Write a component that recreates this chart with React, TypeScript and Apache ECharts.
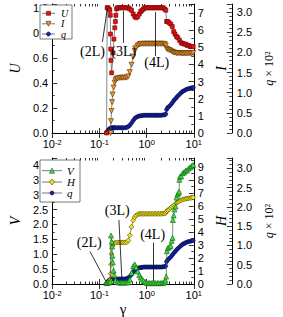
import React, { useEffect, useRef } from "react";
import * as echarts from "echarts";

// ---------- data ----------
const xMinorTicks = [
  0.02, 0.03, 0.04, 0.05, 0.06, 0.07, 0.08, 0.09,
  0.2, 0.3, 0.4, 0.5, 0.6, 0.7, 0.8, 0.9,
  2, 3, 4, 5, 6, 7, 8, 9,
];

// top panel: U (left axis)
const uData: [number, number][] = [
  [0.142, 0.0], [0.146, 1.0], [0.152, 1.0], [0.16, 0.99], [0.166, 0.98],
  [0.17, 0.94], [0.172, 0.79], [0.174, 0.67], [0.176, 0.58], [0.182, 0.48],
  [0.195, 0.64], [0.203, 0.75], [0.212, 0.84], [0.218, 0.89], [0.223, 0.94],
  [0.232, 0.99], [0.24, 1.0], [0.26, 1.0], [0.28, 1.0], [0.3, 1.0], [0.32, 1.0],
  [0.35, 1.0], [0.38, 1.0], [0.41, 1.0], [0.44, 0.99], [0.48, 0.98], [0.52, 0.95],
  [0.56, 0.93], [0.6, 0.92], [0.65, 0.93], [0.7, 0.95], [0.75, 0.97], [0.8, 0.98],
  [0.86, 0.99], [0.93, 1.0], [1.0, 1.0], [1.08, 1.0], [1.16, 1.0], [1.25, 1.0],
  [1.35, 1.0], [1.45, 1.0], [1.56, 1.0], [1.68, 1.0], [1.8, 1.0], [1.95, 1.0],
  [2.1, 1.0], [2.25, 1.0], [2.42, 0.99], [2.55, 0.98], [2.65, 0.89], [2.8, 0.89],
  [3.0, 0.88], [3.25, 0.87], [3.5, 0.85], [3.75, 0.81], [4.0, 0.79], [4.3, 0.77],
  [4.6, 0.76], [5.0, 0.74], [5.4, 0.72], [5.8, 0.715], [6.2, 0.71], [6.7, 0.71],
  [7.2, 0.7], [7.8, 0.7], [8.4, 0.69], [9.0, 0.69], [9.7, 0.69],
];

// top panel: I (right axis)
const iData: [number, number][] = [
  [0.172, 0.0], [0.176, 0.69], [0.18, 1.28], [0.186, 1.8], [0.19, 2.25],
  [0.2, 2.65], [0.21, 2.94], [0.22, 3.08], [0.232, 3.15], [0.24, 3.18],
  [0.26, 3.2], [0.28, 3.22], [0.3, 3.22], [0.32, 3.22], [0.35, 3.22],
  [0.38, 3.23], [0.41, 3.3], [0.44, 3.55], [0.48, 3.98], [0.52, 4.45],
  [0.56, 4.78], [0.6, 4.98], [0.65, 5.1], [0.7, 5.16], [0.75, 5.19], [0.8, 5.2],
  [0.86, 5.2], [0.93, 5.2], [1.0, 5.2], [1.08, 5.2], [1.16, 5.2], [1.25, 5.2],
  [1.35, 5.2], [1.45, 5.2], [1.56, 5.2], [1.68, 5.2], [1.8, 5.2], [1.95, 5.2],
  [2.1, 5.2], [2.25, 5.2], [2.42, 5.18], [2.55, 5.1], [2.65, 4.92], [2.8, 4.88],
  [3.0, 4.84], [3.25, 4.8], [3.5, 4.74], [3.75, 4.7], [4.0, 4.68], [4.3, 4.66],
  [4.6, 4.65], [5.0, 4.65], [5.4, 4.64], [5.8, 4.64], [6.2, 4.64], [6.7, 4.64],
  [7.2, 4.64], [7.8, 4.65], [8.4, 4.65], [9.0, 4.65], [9.7, 4.66],
];

// both panels: q x 10^2 (third axis)
const qData: [number, number][] = [
  [0.142, 0.02], [0.148, 0.05], [0.155, 0.08], [0.162, 0.1], [0.17, 0.12],
  [0.18, 0.13], [0.19, 0.13], [0.2, 0.13], [0.21, 0.13], [0.22, 0.13],
  [0.24, 0.13], [0.26, 0.13], [0.28, 0.13], [0.3, 0.13], [0.32, 0.13],
  [0.35, 0.13], [0.38, 0.14], [0.41, 0.16], [0.44, 0.19], [0.48, 0.25],
  [0.52, 0.31], [0.56, 0.36], [0.6, 0.39], [0.65, 0.41], [0.7, 0.42],
  [0.75, 0.43], [0.8, 0.43], [0.86, 0.44], [0.93, 0.44], [1.0, 0.44],
  [1.08, 0.44], [1.16, 0.44], [1.25, 0.44], [1.35, 0.44], [1.45, 0.44],
  [1.56, 0.44], [1.68, 0.44], [1.8, 0.44], [1.95, 0.44], [2.1, 0.44],
  [2.25, 0.45], [2.42, 0.45], [2.55, 0.47], [2.65, 0.58], [2.8, 0.63],
  [3.0, 0.66], [3.25, 0.7], [3.5, 0.75], [3.75, 0.8], [4.0, 0.84], [4.3, 0.88],
  [4.6, 0.92], [5.0, 0.96], [5.4, 1.0], [5.8, 1.03], [6.2, 1.05], [6.7, 1.07],
  [7.2, 1.09], [7.8, 1.1], [8.4, 1.11], [9.0, 1.12], [9.7, 1.13],
];

// bottom panel: V (left axis)
const vData: [number, number][] = [
  [0.142, 0.03], [0.15, 0.04], [0.16, 0.05], [0.17, 0.08], [0.176, 1.63],
  [0.183, 1.42], [0.186, 1.26], [0.188, 0.95], [0.192, 0.73], [0.2, 0.45],
  [0.208, 0.29], [0.22, 0.13], [0.24, 0.06], [0.26, 0.05], [0.28, 0.05],
  [0.3, 0.05], [0.32, 0.05], [0.35, 0.05], [0.38, 0.05], [0.41, 0.06],
  [0.44, 0.15], [0.48, 0.38], [0.52, 0.6], [0.56, 0.66], [0.6, 0.56],
  [0.65, 0.42], [0.7, 0.3], [0.75, 0.22], [0.8, 0.17], [0.86, 0.11],
  [0.93, 0.07], [1.0, 0.04], [1.08, 0.03], [1.16, 0.03], [1.25, 0.03],
  [1.35, 0.03], [1.45, 0.03], [1.56, 0.03], [1.68, 0.03], [1.8, 0.03],
  [1.95, 0.03], [2.1, 0.03], [2.25, 0.04], [2.42, 0.06], [2.52, 0.12],
  [2.6, 0.25], [2.69, 1.1], [2.8, 1.2], [3.0, 1.24], [3.25, 1.28], [3.4, 1.45],
  [3.55, 1.55], [3.6, 2.15], [3.75, 2.3], [3.9, 2.5], [4.1, 2.6], [4.3, 2.9],
  [4.5, 3.0], [4.7, 3.05], [4.88, 3.1], [4.95, 3.5], [5.1, 3.6], [5.4, 3.62],
  [5.8, 3.72], [6.2, 3.75], [6.7, 3.8], [7.2, 3.82], [7.8, 3.88], [8.4, 3.92],
  [9.0, 3.96], [9.7, 4.0],
];

// bottom panel: H (right axis)
const hData: [number, number][] = [
  [0.142, 0.05], [0.15, 0.1], [0.16, 0.15], [0.168, 0.3], [0.173, 0.8],
  [0.176, 1.5], [0.18, 2.3], [0.186, 2.9], [0.195, 3.08], [0.2, 3.12],
  [0.21, 3.15], [0.22, 3.18], [0.24, 3.2], [0.26, 3.2], [0.28, 3.2], [0.3, 3.2],
  [0.32, 3.2], [0.35, 3.2], [0.38, 3.22], [0.41, 3.35], [0.44, 3.75], [0.48, 4.4],
  [0.52, 4.9], [0.56, 5.15], [0.6, 5.28], [0.65, 5.36], [0.7, 5.4], [0.75, 5.4],
  [0.8, 5.4], [0.86, 5.4], [0.93, 5.4], [1.0, 5.4], [1.08, 5.4], [1.16, 5.4],
  [1.25, 5.4], [1.35, 5.4], [1.45, 5.4], [1.56, 5.4], [1.68, 5.4], [1.8, 5.4],
  [1.95, 5.4], [2.1, 5.41], [2.25, 5.42], [2.42, 5.42], [2.55, 5.48], [2.65, 5.6],
  [2.8, 5.68], [3.0, 5.75], [3.25, 5.85], [3.5, 5.95], [3.75, 6.05], [4.0, 6.12],
  [4.3, 6.25], [4.6, 6.32], [5.0, 6.4], [5.4, 6.45], [5.8, 6.5], [6.2, 6.53],
  [6.7, 6.56], [7.2, 6.58], [7.8, 6.6], [8.4, 6.62], [9.0, 6.64], [9.7, 6.66],
];

// annotations (data coordinates)
const topLabels = [
  { text: "(2L)", at: [0.0716, 0.648] },
  { text: "(3L)", at: [0.329, 0.648] },
  { text: "(4L)", at: [1.64, 0.56] },
];
const topArrows = [
  { from: [0.116, 0.728], to: [0.146, 0.985] },
  { from: [0.323, 0.72], to: [0.323, 0.975] },
  { from: [1.51, 0.615], to: [1.51, 0.965] },
];
const bottomLabels = [
  { text: "(2L)", at: [0.061, 1.39] },
  { text: "(3L)", at: [0.239, 2.48] },
  { text: "(4L)", at: [1.34, 1.65] },
];
const bottomArrows = [
  { from: [0.0634, 1.09], to: [0.136, 0.1] },
  { from: [0.259, 2.15], to: [0.298, 0.23] },
  { from: [1.37, 1.39], to: [1.37, 0.1] },
];

// ---------- styling ----------
const SANS = "Liberation Sans";
const SERIF = "Liberation Serif";
const TICK = { color: "#000", width: 0.8 };

const STYLE: Record<string, any> = {
  U: { symbol: "rect", size: 4, rotate: 0, fill: "#e01414", edge: "#700000" },
  I: { symbol: "triangle", size: 5, rotate: 180, fill: "#f59a2c", edge: "#4a2800" },
  q: { symbol: "circle", size: 4, rotate: 0, fill: "#1428a8", edge: "#000033" },
  V: { symbol: "triangle", size: 5, rotate: 0, fill: "#3fe03f", edge: "#0a5a0a" },
  H: { symbol: "diamond", size: 5, rotate: 0, fill: "#f2e21c", edge: "#4a4400" },
};

const xAxisFor = (grid: number, pos: "top" | "bottom", minor: boolean, labels: boolean, name?: string) => ({
  type: "log",
  logBase: 10,
  gridIndex: grid,
  position: pos,
  min: 0.01,
  max: 10,
  axisLine: { show: !minor, lineStyle: { color: "#000", width: 1 } },
  axisTick: minor
    ? { show: true, inside: true, length: 2.5, lineStyle: TICK, customValues: xMinorTicks }
    : { show: true, inside: true, length: 5, lineStyle: TICK },
  axisLabel: labels
    ? {
        show: true,
        margin: 5,
        formatter: (v: number) => `{b|10}{s|${Math.round(Math.log10(v))}}`,
        rich: {
          b: { fontFamily: SANS, fontSize: 11, color: "#000" },
          s: { fontFamily: SANS, fontSize: 7.5, color: "#000", verticalAlign: "top", lineHeight: 11 },
        },
      }
    : { show: false },
  splitLine: { show: false },
  name: name || "",
  nameLocation: "middle",
  nameGap: 17,
  nameTextStyle: { fontFamily: SERIF, fontSize: 15, color: "#000" },
});

const fmt1 = (v: number) => (Math.abs(v * 2 - Math.round(v * 2)) < 1e-6 ? v.toFixed(1) : "");
const fmtU = (v: number) => (Math.abs(v * 5 - Math.round(v * 5)) < 1e-6 ? v.toFixed(1) : "");
const fmtInt = (v: number) => (Math.abs(v - Math.round(v)) < 1e-6 ? String(Math.round(v)) : "");

const yAxisFor = (o: any) => ({
  type: "value",
  gridIndex: o.grid,
  position: o.pos,
  offset: o.offset || 0,
  min: 0,
  max: o.max,
  interval: o.interval,
  axisLine: { show: true, onZero: false, lineStyle: { color: "#000", width: 1 } },
  axisTick: { show: true, inside: true, length: 5, lineStyle: TICK },
  minorTick: { show: true, splitNumber: o.minor, length: 2.5, lineStyle: TICK },
  axisLabel: {
    show: true,
    margin: o.margin ?? 4,
    formatter: o.fmt,
    color: "#000",
    fontFamily: SANS,
    fontSize: 11,
    showMaxLabel: false,
  },
  splitLine: { show: false },
  minorSplitLine: { show: false },
  name: o.name,
  nameLocation: "middle",
  nameGap: o.nameGap,
  nameRotate: 90,
  nameTextStyle: {
    fontFamily: SERIF,
    fontSize: o.nameSize || 14,
    fontStyle: o.italic === false ? "normal" : "italic",
    color: "#000",
    rich: { i: { fontFamily: SERIF, fontStyle: "italic", fontSize: 12, color: "#000" } },
  },
});

const lineSeries = (name: string, x: number, y: number, data: [number, number][], z: number, extra?: any) => {
  const s = STYLE[name];
  return {
    type: "line",
    name,
    xAxisIndex: x,
    yAxisIndex: y,
    data,
    symbol: s.symbol,
    symbolSize: s.size,
    symbolRotate: s.rotate,
    showSymbol: true,
    lineStyle: { color: "#555", width: 0.7 },
    itemStyle: { color: s.fill, borderColor: s.edge, borderWidth: 0.6 },
    emphasis: { disabled: true },
    z,
    ...(extra || {}),
  };
};

const annotations = (labels: any[], arrows: any[]) => ({
  markLine: {
    silent: true,
    symbol: ["none", "arrow"],
    symbolSize: [0, 6],
    lineStyle: { color: "#000", width: 0.8, type: "solid" },
    label: { show: false },
    emphasis: { disabled: true },
    data: arrows.map((a) => [{ coord: a.from }, { coord: a.to }]),
  },
  markPoint: {
    silent: true,
    symbol: "rect",
    symbolSize: 1,
    itemStyle: { color: "rgba(0,0,0,0)" },
    label: {
      show: true,
      position: "inside",
      color: "#000",
      fontFamily: SERIF,
      fontSize: 14,
      formatter: (p: any) => p.name,
    },
    data: labels.map((l) => ({ name: l.text, coord: l.at })),
  },
});

// legend drawn as graphic: a box with line + symbol + italic name per row
const markerShape = (name: string, cx: number, cy: number) => {
  const s = STYLE[name];
  const style = { fill: s.fill, stroke: s.edge, lineWidth: 0.6 };
  const h = s.size / 2;
  if (s.symbol === "rect") return { type: "rect", shape: { x: cx - h, y: cy - h, width: 2 * h, height: 2 * h }, style };
  if (s.symbol === "circle") return { type: "circle", shape: { cx, cy, r: h }, style };
  if (s.symbol === "diamond")
    return { type: "polygon", shape: { points: [[cx, cy - h - 0.5], [cx + h, cy], [cx, cy + h + 0.5], [cx - h, cy]] }, style };
  const up = s.rotate === 0;
  const pts = up
    ? [[cx, cy - h], [cx + h, cy + h], [cx - h, cy + h]]
    : [[cx, cy + h], [cx + h, cy - h], [cx - h, cy - h]];
  return { type: "polygon", shape: { points: pts }, style };
};

const legendGraphic = (names: string[], box: { x: number; y: number; w: number; h: number }, rowsY: number[], lineX: [number, number], textX: number, fontSize: number) => {
  const els: any[] = [
    {
      type: "rect",
      shape: { x: box.x, y: box.y, width: box.w, height: box.h },
      style: { fill: "#fff", stroke: "#555", lineWidth: 0.8 },
      z: 100,
    },
  ];
  names.forEach((n, i) => {
    const y = rowsY[i];
    els.push({ type: "line", shape: { x1: lineX[0], y1: y, x2: lineX[1], y2: y }, style: { stroke: "#555", lineWidth: 0.8 }, z: 101 });
    els.push({ ...markerShape(n, (lineX[0] + lineX[1]) / 2, y), z: 102 });
    els.push({
      type: "text",
      x: textX,
      y,
      style: { text: n, fill: "#000", font: `italic ${fontSize}px ${SERIF}`, textVerticalAlign: "middle", verticalAlign: "middle", textAlign: "left", align: "left" },
      z: 102,
    });
  });
  return els;
};

export default function App() {
  const ref = useRef<HTMLDivElement>(null);
  useEffect(() => {
    if (!ref.current) return;
    const chart = echarts.init(ref.current, null, { renderer: "svg" });
    const option: any = {
      animation: false,
      backgroundColor: "#fff",
      grid: [
        { left: 35, top: 4, width: 172, height: 129, containLabel: false },
        { left: 35, top: 158, width: 172, height: 129, containLabel: false },
      ],
      xAxis: [
        xAxisFor(0, "bottom", false, true),
        xAxisFor(0, "bottom", true, false),
        xAxisFor(0, "top", false, false),
        xAxisFor(0, "top", true, false),
        xAxisFor(1, "bottom", false, true, "γ"),
        xAxisFor(1, "bottom", true, false),
        xAxisFor(1, "top", false, false),
        xAxisFor(1, "top", true, false),
      ],
      yAxis: [
        yAxisFor({ grid: 0, pos: "left", max: 1.03, interval: 0.2, minor: 2, fmt: fmtU, name: "U", nameGap: 19 }),
        yAxisFor({ grid: 0, pos: "right", max: 7.52, interval: 1, minor: 2, fmt: fmtInt, name: "I", nameGap: 14 }),
        yAxisFor({
          grid: 0, pos: "right", offset: 38, max: 3.2, interval: 0.5, minor: 5, fmt: fmt1,
          name: "{i|q} × 10²", nameGap: 28, nameSize: 12, italic: false, margin: 5,
        }),
        yAxisFor({ grid: 1, pos: "left", max: 4.23, interval: 0.5, minor: 2, fmt: fmt1, name: "V", nameGap: 19 }),
        yAxisFor({ grid: 1, pos: "right", max: 9.7, interval: 1, minor: 2, fmt: fmtInt, name: "H", nameGap: 14 }),
        yAxisFor({
          grid: 1, pos: "right", offset: 38, max: 3.27, interval: 0.5, minor: 5, fmt: fmt1,
          name: "{i|q} × 10²", nameGap: 28, nameSize: 12, italic: false, margin: 5,
        }),
      ],
      series: [
        lineSeries("q", 0, 2, qData, 2),
        lineSeries("I", 0, 1, iData, 3),
        lineSeries("U", 0, 0, uData, 4, annotations(topLabels, topArrows)),
        lineSeries("q", 4, 5, qData, 2),
        lineSeries("H", 4, 4, hData, 3),
        lineSeries("V", 4, 3, vData, 4, annotations(bottomLabels, bottomArrows)),
      ],
      graphic: [
        ...legendGraphic(["U", "I", "q"], { x: 40, y: 5, w: 32, h: 34 }, [13.3, 23.8, 34], [42, 55], 61, 10),
        ...legendGraphic(["V", "H", "q"], { x: 40, y: 160, w: 40, h: 42 }, [170.7, 182, 193], [42, 62], 67, 11),
      ],
    };
    chart.setOption(option);
    return () => chart.dispose();
  }, []);
  return (
    <div
      ref={ref}
      style={{ position: "fixed", left: 0, top: 0, width: 283, height: 317, background: "#fff" }}
    />
  );
}
